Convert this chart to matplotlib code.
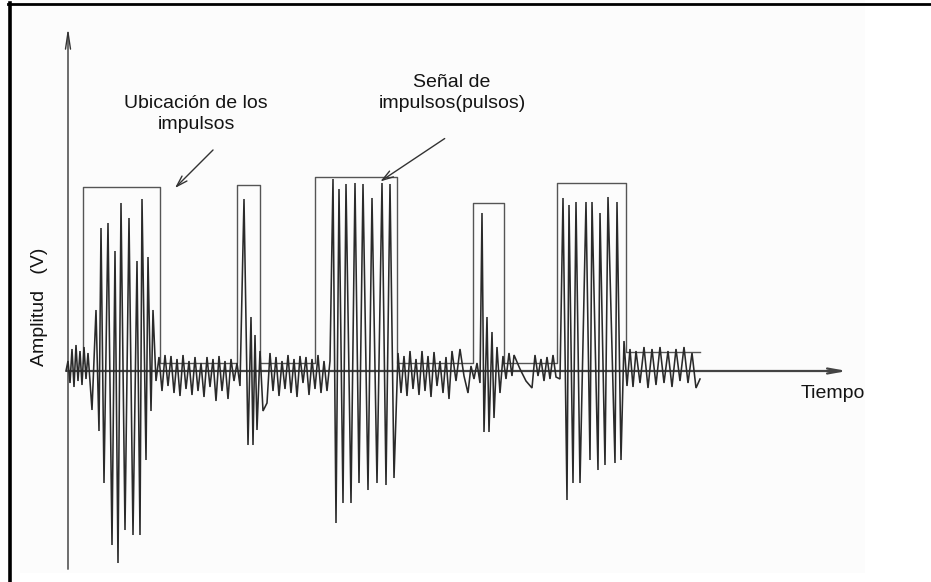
import matplotlib
matplotlib.use("Agg")
import matplotlib.pyplot as plt
from matplotlib.lines import Line2D
import numpy as np

# ---------------- data (time units, amplitude units above the time axis) ----------------
noise0_t = [66, 68, 70, 72, 74, 76, 78, 80, 82, 84, 86, 88]
noise0_v = [0, 10, -12, 22, -16, 26, -10, 20, -14, 24, -8, 18]

burst1_t = [92, 96, 99, 101, 104, 108, 112, 115, 118, 121, 125, 129, 133, 137, 140, 142, 146, 148, 151, 153, 156]
burst1_v = [-39, 61, -60, 143, -112, 148, -174, 120, -192, 168, -159, 153, -164, 110, -164, 172, -89, 114, -40, 61, -10]

noiseA_t = [159, 162, 165, 168, 171, 174, 177, 180, 183, 186, 189, 192, 195, 198, 201, 204, 207,
            210, 213, 216, 219, 222, 225, 228, 231, 234]
noiseA_v = [14, -20, 16, -15, 15, -22, 12, -25, 16, -18, 10, -24, 14, -20, 8, -26, 14,
            -16, 12, -30, 15, -20, 10, -28, 12, -10]

burst2_t = [237, 240, 244, 248, 251, 253, 255, 257, 260, 263, 267]
burst2_v = [8, -15, 172, -74, 54, -74, 36, -59, 20, -40, -32]

noiseB_t = [270, 273, 276, 279, 282, 285, 288, 291, 294, 297, 300, 303, 306, 309, 312, 315,
            318, 321, 324, 327, 330]
noiseB_v = [18, -20, 14, -25, 10, -18, 16, -22, 12, -26, 15, -12, 14, -24, 12, -18,
            16, -22, 10, -20, 10]

burst3_t = [333, 336, 339, 343, 346, 351, 355, 359, 363, 368, 372, 377, 382, 386, 390, 394]
burst3_v = [192, -152, 182, -132, 187, -132, 188, -112, 187, -119, 173, -112, 188, -114, 187, -107]

noiseC_t = [398, 401, 404, 407, 410, 413, 416, 419, 422, 425, 428, 431, 434, 437, 440, 443,
            446, 449, 452, 456, 460, 464, 468, 471, 474, 477, 480]
noiseC_v = [18, -22, 15, -25, 20, -18, 12, -24, 20, -20, 15, -26, 19, -15, 10, -22,
            14, -28, 20, -10, 22, -5, -22, 5, -8, 8, -12]

burst4_t = [482, 484, 487, 489, 492, 494, 497, 500, 503, 506, 509, 512]
burst4_v = [158, -61, 54, -61, 39, -47, 24, -22, 15, -8, 18, -5]

noiseD_t = [514, 520, 526, 532, 535, 538, 541, 544, 547, 550, 553, 556, 560]
noiseD_v = [16, 2, -10, -17, 16, -5, 12, -10, 14, -8, 16, -6, -8]

burst5_t = [563, 567, 569, 573, 576, 580, 586, 590, 592, 598, 600, 605, 608, 615, 617, 621]
burst5_v = [173, -129, 166, -112, 169, -112, 169, -89, 169, -99, 158, -94, 174, -92, 169, -89]

noiseE_t = [624, 627, 630, 633, 636, 640, 644, 648, 652, 656, 660, 664, 668, 672, 676, 680,
            684, 688, 692, 696, 700]
noiseE_v = [30, -15, 22, -16, 20, -12, 24, -17, 22, -14, 24, -12, 20, -16, 22, -10,
            24, -12, 18, -17, -8]

# "Ubicación de los impulsos" square wave
pulse_start = [83, 237, 315, 473, 557]
pulse_end = [160, 260, 397, 504, 626]
pulse_top = [184, 186, 194, 168, 188]
pulse_low = [8, 8, 8, 8, 19]
pulse_tail_end = 700

# ---------------- figure ----------------
W, H = 931, 582
fig = plt.figure(figsize=(W / 100, H / 100), dpi=100)
fig.patch.set_facecolor("white")
ax = fig.add_axes([0, 0, 1, 1])
ax.set_xlim(0, W)
ax.set_ylim(371 - H, 371)
ax.axis("off")

# background panel (very light grey)
ax.add_patch(plt.Rectangle((20, 371 - 573), 845, 573, facecolor="#fcfcfc", edgecolor="none", zorder=0))

# border (top & left)
fig.add_artist(Line2D([9.5 / W, 9.5 / W], [0, 1 - 3 / H], color="black", lw=2.6, transform=fig.transFigure))
fig.add_artist(Line2D([8 / W, 1], [1 - 4 / H, 1 - 4 / H], color="black", lw=2.0, transform=fig.transFigure))

# axes arrows
ax.annotate("", xy=(68, 346), xytext=(68, -201),
            arrowprops=dict(arrowstyle="->,head_length=1.2,head_width=0.18", color="#333333", lw=1.0))
ax.annotate("", xy=(850, 0), xytext=(64, 0),
            arrowprops=dict(arrowstyle="->,head_length=1.0,head_width=0.18", color="#444444", lw=1.6))

# signal
sig_t = np.concatenate([noise0_t, burst1_t, noiseA_t, burst2_t, noiseB_t, burst3_t,
                        noiseC_t, burst4_t, noiseD_t, burst5_t, noiseE_t])
sig_v = np.concatenate([noise0_v, burst1_v, noiseA_v, burst2_v, noiseB_v, burst3_v,
                        noiseC_v, burst4_v, noiseD_v, burst5_v, noiseE_v])
ax.plot(sig_t, sig_v, color="#2a2a2a", lw=1.15, solid_joinstyle="miter", zorder=3)

# square wave of pulse locations
sq_t, sq_v = [], []
for s, e, top, low in zip(pulse_start, pulse_end, pulse_top, pulse_low):
    sq_t += [s, s, e, e]
    sq_v += [pulse_low[0], top, top, low]
sq_t.append(pulse_tail_end)
sq_v.append(pulse_low[-1])
ax.plot(sq_t, sq_v, color="#555555", lw=1.0, zorder=2)

# texts
font = dict(family=["Liberation Sans", "DejaVu Sans"], color="#141414")
ax.text(196, 257, "Ubicación de los\nimpulsos", ha="center", va="center", fontsize=14,
        linespacing=1.25, **font)
ax.text(452, 278, "Señal de\nimpulsos(pulsos)", ha="center", va="center", fontsize=14,
        linespacing=1.25, **font)
ax.text(833, -22, "Tiempo", ha="center", va="center", fontsize=14, **font)
ax.text(39, 64, "Amplitud   (V)", ha="center", va="center", rotation=90, fontsize=14, **font)

# callout arrows
ax.annotate("", xy=(173, 181), xytext=(215, 223),
            arrowprops=dict(arrowstyle="->,head_length=0.8,head_width=0.25", color="#333333", lw=1.0))
ax.annotate("", xy=(378, 188), xytext=(447, 234),
            arrowprops=dict(arrowstyle="->,head_length=0.8,head_width=0.25", color="#333333", lw=1.0))

fig.savefig("out.png", dpi=100, facecolor="white")
